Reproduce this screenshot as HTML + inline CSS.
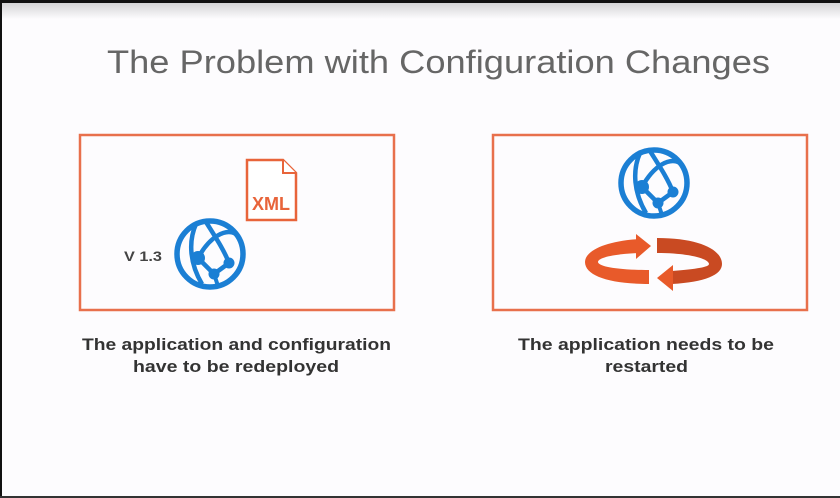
<!DOCTYPE html>
<html><head><meta charset="utf-8"><style>
html,body{margin:0;padding:0;background:#fff;}
svg{display:block;}
text{font-family:"Liberation Sans",sans-serif;}
</style></head><body>
<svg width="840" height="498" viewBox="0 0 840 498" xmlns="http://www.w3.org/2000/svg">
<defs>
<linearGradient id="tg" x1="0" y1="0" x2="0" y2="1">
<stop offset="0" stop-color="#d4d4d6"/><stop offset="1" stop-color="#fdfcfe"/>
</linearGradient>
<g id="globe">
<circle cx="0" cy="0" r="33" fill="none" stroke="#1b7fd4" stroke-width="5.5"/>
<path d="M-14,-30 C-22,-12 -20,10 -8,30" fill="none" stroke="#1b7fd4" stroke-width="4.5"/>
<path d="M-12,4 C0,-18 16,-26 26,-20" fill="none" stroke="#1b7fd4" stroke-width="4.5"/>
<path d="M-12,4 L4,20 L19,9" fill="none" stroke="#1b7fd4" stroke-width="4.5"/>
<path d="M-4,-32 C6,-16 14,-4 19,9" fill="none" stroke="#1b7fd4" stroke-width="4.5"/>
<path d="M4,20 L8,32" fill="none" stroke="#1b7fd4" stroke-width="4"/>
<circle cx="-12" cy="4" r="7" fill="#1b7fd4"/>
<circle cx="19" cy="9" r="5.5" fill="#1b7fd4"/>
<circle cx="4" cy="20" r="5.5" fill="#1b7fd4"/>
</g>
</defs>
<rect x="0" y="0" width="840" height="498" fill="#fdfcfe"/>
<rect x="0" y="3" width="840" height="16" fill="url(#tg)"/>
<rect x="0" y="0" width="840" height="3" fill="#111"/>
<rect x="0" y="0" width="2" height="498" fill="#111"/>
<rect x="0" y="496" width="840" height="2" fill="#333"/>

<text x="107" y="73" font-size="32" fill="#666" textLength="663" lengthAdjust="spacingAndGlyphs">The Problem with Configuration Changes</text>

<rect x="80" y="135" width="314" height="175" fill="none" stroke="#e8704c" stroke-width="2.5"/>
<rect x="493" y="135" width="314" height="175" fill="none" stroke="#e8704c" stroke-width="2.5"/>

<!-- XML doc -->
<path d="M247,160 L283,160 L296,173 L296,220 L247,220 Z" fill="#fff" stroke="#e8643a" stroke-width="2.5"/>
<path d="M283,160 L283,173 L296,173" fill="#fff" stroke="#e8643a" stroke-width="2"/>
<text x="252" y="210" font-size="18" font-weight="bold" fill="#e8643a" textLength="38" lengthAdjust="spacingAndGlyphs">XML</text>

<text x="124" y="261" font-size="14" font-weight="bold" fill="#444" textLength="38" lengthAdjust="spacingAndGlyphs">V 1.3</text>
<use href="#globe" x="210" y="254"/>
<use href="#globe" x="654" y="183"/>

<!-- rotating arrows -->
<path d="M640,239 C605,241 585,251 585,262 C585,276 610,284 649,284 L649,270 C615,270 598,266 598,262 C598,258 612,254 640,253 Z" fill="#e85a2a"/>
<path d="M636,234 L651,246 L636,259 Z" fill="#e85a2a"/>
<path d="M657,238 C700,238 722,250 722,264 C722,275 705,282 672,284 L672,271 C697,269 709,267 709,264 C709,259 690,253 657,253 Z" fill="#c94a22"/>
<path d="M673,265 L657,278 L673,291 Z" fill="#e85a2a"/>

<text x="82" y="350" font-size="17" font-weight="bold" fill="#333" textLength="309" lengthAdjust="spacingAndGlyphs">The application and configuration</text>
<text x="133" y="372" font-size="17" font-weight="bold" fill="#333" textLength="206" lengthAdjust="spacingAndGlyphs">have to be redeployed</text>
<text x="518" y="350" font-size="17" font-weight="bold" fill="#333" textLength="256" lengthAdjust="spacingAndGlyphs">The application needs to be</text>
<text x="605" y="372" font-size="17" font-weight="bold" fill="#333" textLength="83" lengthAdjust="spacingAndGlyphs">restarted</text>
</svg>
</body></html>
